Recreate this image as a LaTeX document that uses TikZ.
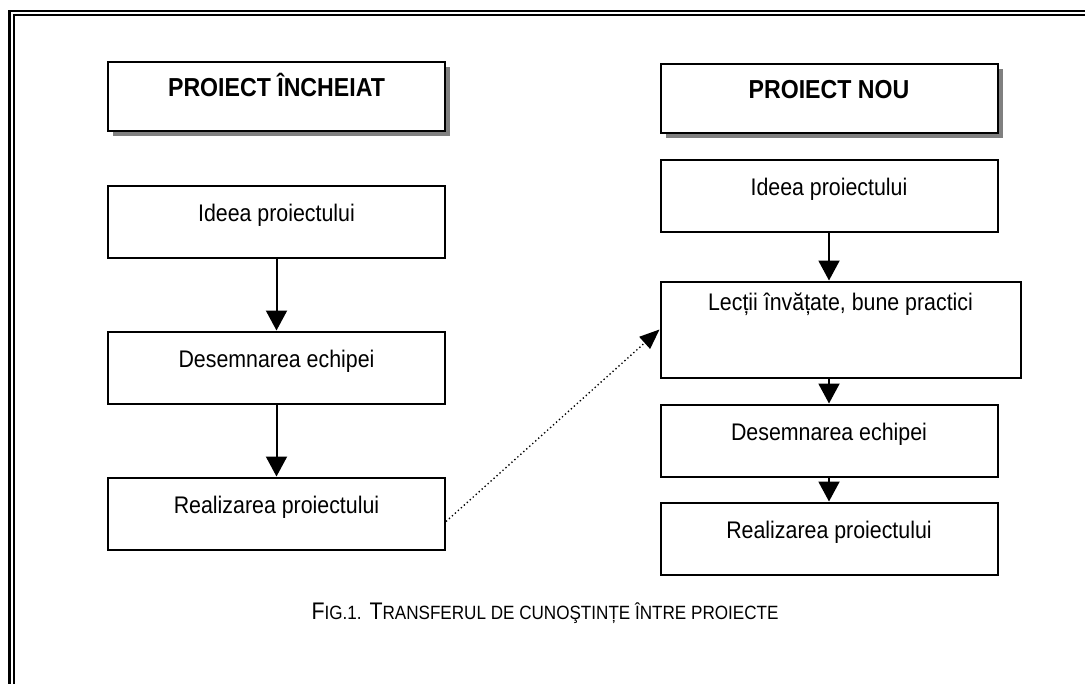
\documentclass[tikz,border=0pt]{standalone}
\usepackage{fontspec}
\setmainfont{Liberation Sans}[FakeStretch=0.89]
\usepackage{tikz}
\usetikzlibrary{positioning,arrows.meta,shadows}
\newcommand{\smallcap}[1]{{\fontsize{14.4pt}{16pt}\selectfont #1}}

\begin{document}
\begin{tikzpicture}[x=0.75pt, y=-0.75pt,
headnode/.style={rectangle, draw=black, fill=white, line width=1.5pt, minimum width=252.75pt, inner sep=0pt, text height=26.25pt, text depth=25.5pt, font=\fontsize{19.5pt}{22pt}\selectfont\bfseries, drop shadow={shadow xshift=3.75pt, shadow yshift=-3.75pt, fill=gray, opacity=1}},
squarednode/.style={rectangle, draw=black, fill=white, line width=1.5pt, minimum width=252.75pt, inner sep=0pt, text height=27pt, text depth=27pt, font=\fontsize{18pt}{20pt}\selectfont},
arrowline/.style={-{Triangle[length=15pt, width=15.75pt]}, line width=1.5pt},
]
\useasboundingbox (0,0) rectangle (1085,683);
%Frame
\draw[double, line width=1.65pt, double distance=1.65pt] (11.6,690) |- (1090,13.1);

%Nodes
\node[headnode]         (h1)     at (276.5,96)          {PROIECT ÎNCHEIAT};
\node[squarednode]      (i1)     [below=39.75pt of h1]  {Ideea proiectului};
\node[squarednode]      (d1)     [below=54pt of i1]     {Desemnarea echipei};
\node[squarednode]      (r1)     [below=54pt of d1]     {Realizarea proiectului};

\node[headnode]         (h2)     at (829,98)            {PROIECT NOU};
\node[squarednode]      (i2)     [below=18.75pt of h2]  {Ideea proiectului};
\node[squarednode, minimum width=270pt, text height=21.75pt, text depth=50.25pt] (lect) [below=36pt of i2.south west, anchor=north west] {Lecții învățate, bune practici};
\node[squarednode]      (d2)     [below=18.75pt of lect.south west, anchor=north west] {Desemnarea echipei};
\node[squarednode]      (r2)     [below=18pt of d2]     {Realizarea proiectului};

\node[anchor=base, font=\fontsize{18pt}{20pt}\selectfont] (fig) at (545,619) {F\smallcap{IG.1.} T\smallcap{RANSFERUL DE CUNOŞTINȚE ÎNTRE PROIECTE}};

%Lines
\draw[arrowline] (i1) -- (d1);
\draw[arrowline] (d1) -- (r1);
\draw[arrowline] (i2) -- (i2 |- lect.north);
\draw[arrowline] (lect.south -| d2) -- (d2);
\draw[arrowline] (d2) -- (r2);
\draw[-{Triangle[length=15pt, width=12pt]}, line width=1pt, dotted] ([yshift=-6pt]r1.east) -- (lect.west);
\end{tikzpicture}
\end{document}
